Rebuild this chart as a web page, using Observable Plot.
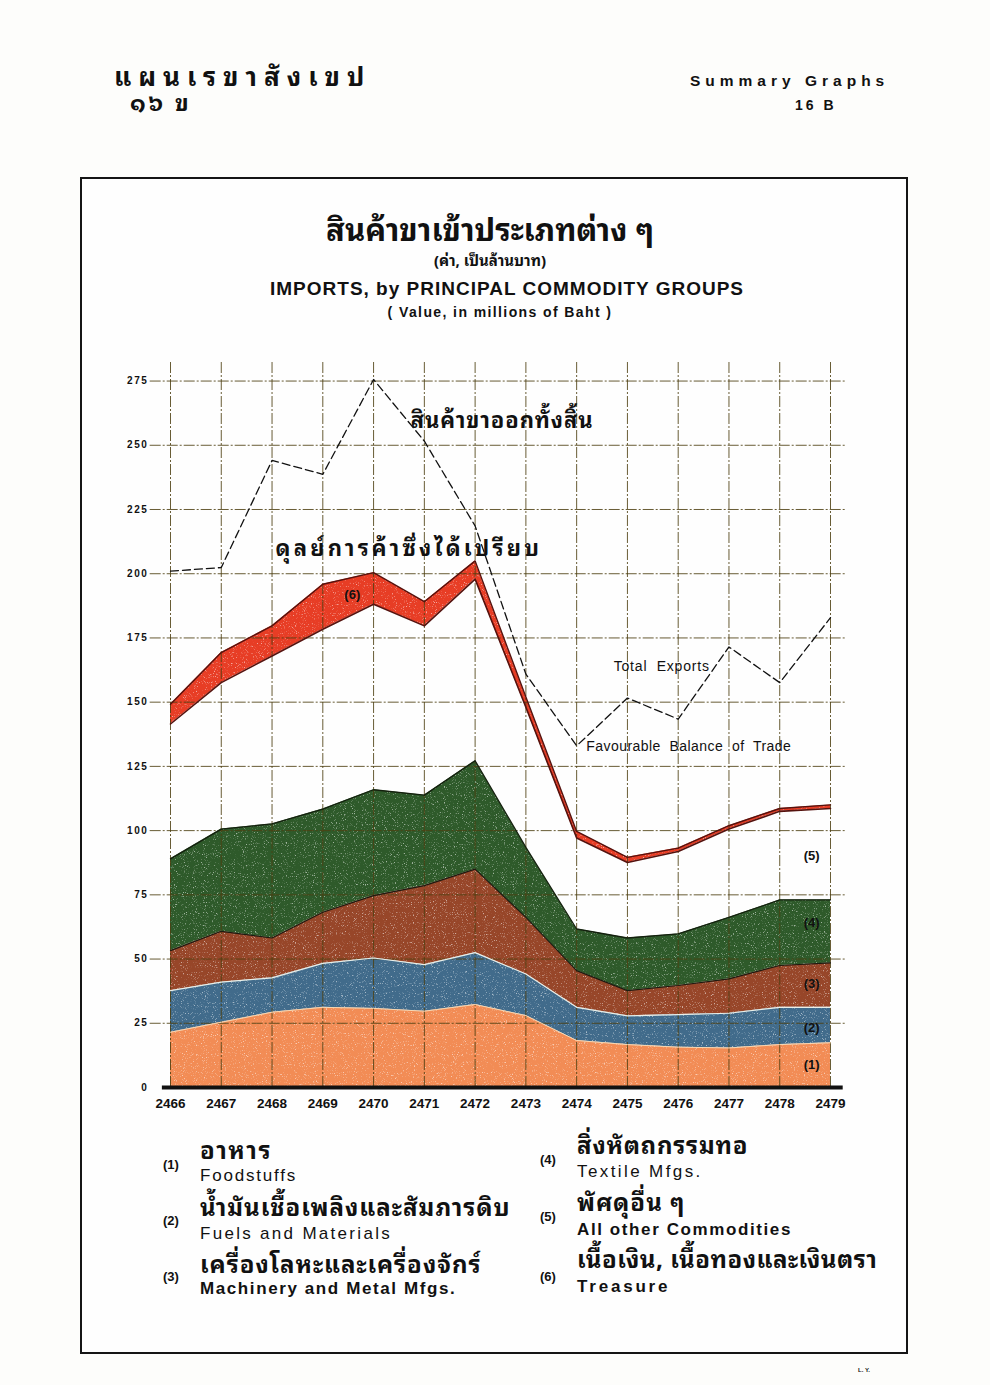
<!DOCTYPE html>
<html>
<head>
<meta charset="utf-8">
<script src="https://cdn.jsdelivr.net/npm/d3@7"></script>
<script src="https://cdn.jsdelivr.net/npm/@observablehq/plot@0.6"></script>
<style>
  html, body { margin:0; padding:0; background:#fdfdfb; }
  #page { position:relative; width:990px; height:1385px; overflow:hidden; background:#fdfdfb;
          font-family: "Liberation Sans", "DejaVu Sans", sans-serif; color:#111; }
  .abs { position:absolute; white-space:nowrap; line-height:1.25; }
  .tight { line-height:1; }
  .th { font-family: "Noto Sans Thai Looped", Loma, Garuda, "Noto Sans Thai", "DejaVu Sans", sans-serif; font-weight:bold; }
  .en { font-family: "Liberation Sans", "DejaVu Sans", sans-serif; }
  #frame { position:absolute; left:80px; top:177px; width:824px; height:1173px; border:2px solid #151515; background:#fefefe; }
  #chart { position:absolute; left:0; top:340px; }
  .num { font-family:"Liberation Sans", sans-serif; font-weight:bold; font-size:13px; }
</style>
</head>
<body>
<div id="page">
  <div class="abs th tight" style="left:114px; top:61px; font-size:26px; letter-spacing:7px;">แผนเรขาสังเขป</div>
  <div class="abs th tight" style="left:130px; top:89px; font-size:23px; letter-spacing:3px;">๑๖ ข</div>
  <div class="abs en" style="left:690px; top:71px; font-size:15.5px; font-weight:bold; letter-spacing:5px;">Summary Graphs</div>
  <div class="abs en" style="left:795px; top:97px; font-size:14px; font-weight:bold; letter-spacing:3px;">16 B</div>

  <div id="frame"></div>

  <div class="abs th tight" style="left:490px; top:212px; transform:translateX(-50%); font-size:31px;">สินค้าขาเข้าประเภทต่าง ๆ</div>
  <div class="abs th tight" style="left:490px; top:252px; transform:translateX(-50%); font-size:15px;">(ค่า, เป็นล้านบาท)</div>
  <div class="abs en" style="left:507px; top:277px; transform:translateX(-50%); font-size:19px; font-weight:bold; letter-spacing:1px;">IMPORTS, by PRINCIPAL COMMODITY GROUPS</div>
  <div class="abs en" style="left:500px; top:304px; transform:translateX(-50%); font-size:14px; font-weight:bold; letter-spacing:1.4px;">( Value, in millions of Baht )</div>

  <div id="chart"></div>

  <div id="legend"></div>

  <div class="abs en" style="left:858px; top:1367px; font-size:6px; font-weight:bold;">L. Y.</div>
</div>
<script>
// ---------------- data (millions of Baht) ----------------
const years = [2466, 2467, 2468, 2469, 2470, 2471, 2472, 2473, 2474, 2475, 2476, 2477, 2478, 2479];

const foodstuffs = [21.5, 25.4, 29.3, 31.2, 30.8, 29.7, 32.3, 28.0, 18.3, 16.7, 15.7, 15.4, 16.7, 17.4];
const fuelsMaterials = [16.2, 15.6, 13.4, 17.1, 19.6, 18.1, 20.2, 16.2, 12.9, 11.2, 12.7, 13.5, 14.5, 13.8];
const machineryMetal = [15.6, 19.8, 15.5, 19.9, 24.3, 30.8, 32.5, 22.0, 14.3, 9.8, 11.3, 13.4, 16.3, 17.3];
const textileMfgs = [35.7, 39.8, 44.4, 40.2, 41.2, 35.2, 42.2, 27.3, 16.2, 20.5, 20.1, 23.9, 25.5, 24.5];
const allOther = [52.5, 57.0, 65.4, 70.0, 72.2, 65.9, 70.7, 54.5, 35.4, 29.4, 32.1, 34.4, 34.5, 35.6];
const treasure = [7.7, 11.7, 11.7, 17.5, 12.3, 9.4, 7.1, 4.0, 2.6, 2.0, 1.3, 1.3, 1.1, 1.4];

const totalExports = [201.0, 202.4, 244.1, 238.7, 275.6, 251.6, 218.6, 160.9, 133.0, 151.6, 143.4, 171.5, 157.6, 182.9];

const seriesNames = ["Foodstuffs", "Fuels and Materials", "Machinery and Metal Mfgs.", "Textile Mfgs.", "All other Commodities", "Treasure"];
const seriesNumbers = ["(1)", "(2)", "(3)", "(4)", "(5)", "(6)"];
const seriesThai = ["อาหาร", "น้ำมันเชื้อเพลิงและสัมภารดิบ", "เครื่องโลหะและเครื่องจักร์", "สิ่งหัตถกรรมทอ", "พัศดุอื่น ๆ", "เนื้อเงิน, เนื้อทองและเงินตรา"];
const seriesValues = [foodstuffs, fuelsMaterials, machineryMetal, textileMfgs, allOther, treasure];

const yTicks = [0, 25, 50, 75, 100, 125, 150, 175, 200, 225, 250, 275];

// annotation labels in data coordinates
const annotations = [
  {year: 2470.73, value: 259.5, text: "สินค้าขาออกทั้งสิ้น", size: 22, thai: true, spacing: 0.9},
  {year: 2468.07, value: 209.5, text: "ดุลย์การค้าซึ่งได้เปรียบ", size: 22, thai: true, spacing: 3.2},
  {year: 2474.73, value: 164.0, text: "Total  Exports", size: 14, thai: false, spacing: 0.8},
  {year: 2474.19, value: 132.8, text: "Favourable  Balance  of  Trade", size: 14, thai: false, spacing: 0.45}
];
const bandLabels = [
  {year: 2478.63, value: 9.0, text: "(1)"},
  {year: 2478.63, value: 23.4, text: "(2)"},
  {year: 2478.63, value: 40.5, text: "(3)"},
  {year: 2478.63, value: 64.2, text: "(4)"},
  {year: 2478.63, value: 90.3, text: "(5)"},
  {year: 2469.58, value: 191.9, text: "(6)"}
];

// ---------------- styles ----------------
const fills = ["#f28c55", "#416b8b", "#974629", "#2e5a2a", null, "#e73d25"];
const edgeStrokes = ["#f6d8b4", "#e9efe9", "#1e1a10", "#14200e", "#55120e", "#55120e"];
const edgeWidths = [1, 1.2, 1.2, 1.3, 1.6, 1.4];

// stacked bands (derived from the series arrays)
let running = years.map(() => 0);
const bands = seriesValues.map((vals, i) => {
  const lo = running;
  const hi = lo.map((v, j) => v + vals[j]);
  running = hi;
  return years.map((y, j) => ({year: y, series: seriesNames[i], y1: lo[j], y2: hi[j]}));
});
const exportsData = years.map((y, j) => ({year: y, value: totalExports[j]}));

const thaiFont = '"Noto Sans Thai Looped", Loma, Garuda, "Noto Sans Thai", "DejaVu Sans", sans-serif';
const enFont = '"Liberation Sans", "DejaVu Sans", sans-serif';

const marks = [];
bands.forEach((b, i) => {
  if (fills[i]) marks.push(Plot.areaY(b, {x: "year", y1: "y1", y2: "y2", fill: fills[i]}));
});
// grid
marks.push(Plot.ruleX(years, {x: d => d, y1: 0, y2: 283, stroke: "#4d4012", strokeWidth: 1, strokeOpacity: 0.85, strokeDasharray: "11,2,2,2"}));
marks.push(Plot.ruleY(yTicks.filter(d => d > 0), {y: d => d, x1: 2465.6, x2: 2479.3, stroke: "#4d4012", strokeWidth: 1, strokeOpacity: 0.85, strokeDasharray: "11,2,2,2"}));
// band edges
bands.forEach((b, i) => {
  marks.push(Plot.line(b, {x: "year", y: "y2", stroke: edgeStrokes[i], strokeWidth: edgeWidths[i]}));
});
marks.push(Plot.line(bands[0], {x: "year", y: "y1", stroke: "#e06a2a", strokeWidth: 1}));
// exports dashed
marks.push(Plot.line(exportsData, {x: "year", y: "value", stroke: "#111", strokeWidth: 1.3, strokeDasharray: "8,4"}));
// baseline
marks.push(Plot.ruleY([0], {x1: 2465.84, x2: 2479.25, stroke: "#111", strokeWidth: 4}));
// axes
marks.push(Plot.axisX(years, {label: null, tickSize: 0, tickPadding: 11, fontSize: 13.5, fontWeight: "bold", tickFormat: d => String(d), fontFamily: enFont}));
marks.push(Plot.axisY(yTicks, {label: null, tickSize: 0, tickPadding: 22, fontSize: 10, fontWeight: "bold", tickFormat: d => String(d), fontFamily: enFont}));
// annotations
annotations.forEach(a => {
  marks.push(Plot.text([a], {x: "year", y: "value", text: "text", fontSize: a.size, fontWeight: a.thai ? "bold" : "normal",
    fontFamily: a.thai ? thaiFont : enFont, textAnchor: "start", fill: "#111"}));
});
marks.push(Plot.text(bandLabels, {x: "year", y: "value", text: "text", fontSize: 13, fontWeight: "bold", fontFamily: enFont, fill: "#111"}));

const plot = Plot.plot({
  width: 990,
  height: 800,
  marginLeft: 170,
  marginRight: 160,
  marginTop: 20,
  marginBottom: 53,
  x: {domain: [2466, 2479], axis: null, label: null},
  y: {domain: [0, 283], axis: null, label: null},
  style: {background: "transparent", overflow: "visible", color: "#111"},
  marks
});
document.getElementById("chart").appendChild(plot);
plot.querySelectorAll('[aria-label="y-axis tick label"] text').forEach(t => t.style.letterSpacing = "1.6px");
plot.querySelectorAll('text').forEach(t => {
  const a = annotations.find(d => d.text === t.textContent);
  if (a) t.style.letterSpacing = a.spacing + "px";
});

// paper-print grain on the coloured bands
const NS = "http://www.w3.org/2000/svg";
const defs = document.createElementNS(NS, "defs");
defs.innerHTML = `
<filter id="grain" x="0" y="0" width="100%" height="100%" color-interpolation-filters="sRGB">
  <feTurbulence type="fractalNoise" baseFrequency="0.9" numOctaves="2" seed="7" result="noise"/>
  <feColorMatrix in="noise" type="matrix" values="0 0 0 0 1  0 0 0 0 1  0 0 0 0 1  5 0 0 0 -3.0" result="spots"/>
  <feComposite in="spots" in2="SourceGraphic" operator="in" result="clipped"/>
  <feComponentTransfer in="clipped" result="soft"><feFuncA type="linear" slope="0.55"/></feComponentTransfer>
  <feMerge><feMergeNode in="SourceGraphic"/><feMergeNode in="soft"/></feMerge>
</filter>`;
plot.insertBefore(defs, plot.firstChild);
plot.querySelectorAll('g[aria-label="area"]').forEach(g => g.setAttribute("filter", "url(#grain)"));

// ---------------- legend ----------------
const legend = document.getElementById("legend");
const legendLayout = [
  {x: 163, num: 1165, th: 1157, en: 1181},
  {x: 163, num: 1221, th: 1214, en: 1239},
  {x: 163, num: 1277, th: 1271, en: 1294},
  {x: 540, num: 1160, th: 1152, en: 1177},
  {x: 540, num: 1217, th: 1209, en: 1235},
  {x: 540, num: 1277, th: 1266, en: 1292}
];
const thaiSpacing = [1.6, 1, 1, 0.8, 1, 0.5];
const enSpacing = [1.8, 2.3, 1.6, 2.4, 1.6, 2.8];
seriesNames.forEach((name, i) => {
  const p = legendLayout[i];
  const n = document.createElement("div");
  n.className = "abs num"; n.style.left = p.x + "px"; n.style.top = (p.num - 8) + "px";
  n.textContent = seriesNumbers[i];
  legend.appendChild(n);
  const t = document.createElement("div");
  t.className = "abs th"; t.style.left = (p.x + 37) + "px"; t.style.top = (p.th - 24.3) + "px";
  t.style.fontSize = "24px"; t.style.letterSpacing = thaiSpacing[i] + "px";
  t.textContent = seriesThai[i];
  legend.appendChild(t);
  const e = document.createElement("div");
  e.className = "abs en"; e.style.left = (p.x + 37) + "px"; e.style.top = (p.en - 16.4) + "px";
  e.style.fontSize = "17px"; e.style.letterSpacing = enSpacing[i] + "px"; e.style.fontWeight = (i === 2 || i >= 4) ? "bold" : "normal";
  e.textContent = name;
  legend.appendChild(e);
});
</script>
</body>
</html>
